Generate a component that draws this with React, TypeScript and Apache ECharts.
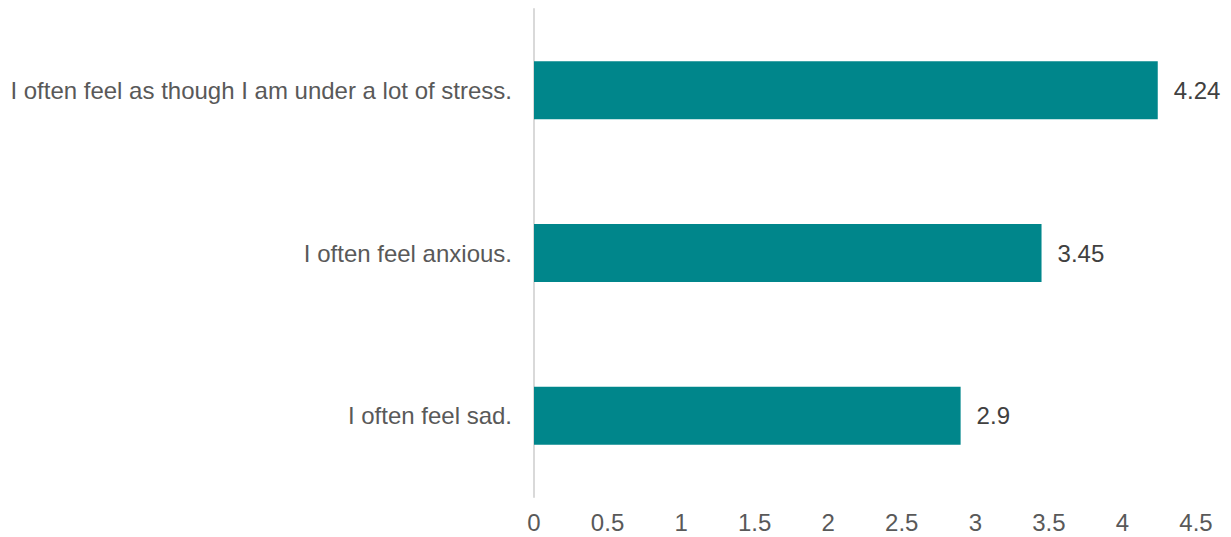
import React, { useEffect, useRef } from "react";
import * as echarts from "echarts";

const categories = [
  "I often feel sad.",
  "I often feel anxious.",
  "I often feel as though I am under a lot of stress.",
];
const values = [2.9, 3.45, 4.24];

export default function App() {
  const ref = useRef<HTMLDivElement>(null);
  useEffect(() => {
    if (!ref.current) return;
    const chart = echarts.init(ref.current, undefined, { renderer: "svg" });
    const font = "Liberation Sans, Arial, sans-serif";
    chart.setOption({
      animation: false,
      backgroundColor: "#ffffff",
      grid: { left: 534, right: 35, top: 9, bottom: 40, containLabel: false },
      xAxis: {
        type: "value",
        min: 0,
        max: 4.5,
        interval: 0.5,
        axisLine: { show: false },
        axisTick: { show: false },
        splitLine: { show: false },
        axisLabel: { color: "#595959", fontSize: 24, fontFamily: font, margin: 13 },
      },
      yAxis: {
        type: "category",
        data: categories,
        axisLine: { show: true, lineStyle: { color: "#d9d9d9", width: 2 } },
        axisTick: { show: false },
        axisLabel: { color: "#595959", fontSize: 24, fontFamily: font, margin: 22 },
      },
      series: [
        {
          type: "bar",
          data: values,
          barWidth: 58,
          itemStyle: { color: "#00868b" },
          label: {
            show: true,
            position: "right",
            distance: 16,
            color: "#404040",
            fontSize: 24,
            fontFamily: font,
          },
        },
      ],
    });
    return () => chart.dispose();
  }, []);
  return (
    <div
      ref={ref}
      style={{ position: "fixed", left: 0, top: 0, width: 1231, height: 537 }}
    />
  );
}
